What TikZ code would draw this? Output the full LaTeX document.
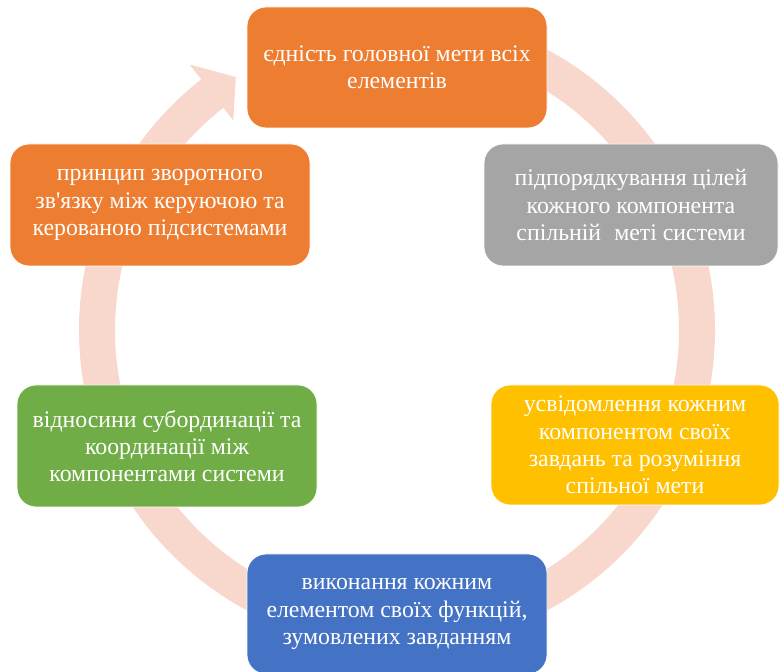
\documentclass[tikz,border=0pt]{standalone}
\usepackage{fontspec}
\setmainfont{Liberation Serif}
\definecolor{cOrange}{HTML}{ED7D31}
\definecolor{cGrey}{HTML}{A5A5A5}
\definecolor{cYellow}{HTML}{FFC000}
\definecolor{cBlue}{HTML}{4472C4}
\definecolor{cGreen}{HTML}{70AD47}
\definecolor{cBand}{HTML}{F8D7CC}
\begin{document}
\begin{tikzpicture}[x=1pt,y=1pt,
  box/.style={rounded corners=19pt, draw=white, line width=0.8pt, text=white,
    align=center, inner sep=0pt, font=\fontsize{23.8}{27.2}\selectfont},
]
\useasboundingbox (0,0) rectangle (780,672);
% circular arrow band
\begin{scope}[shift={(397,342)}]
\fill[cBand] (95:318) arc[start angle=95, end angle=-232, radius=318]
  -- (-232:337) -- (-237.5:300) -- (-232:266) -- (-232:282)
  arc[start angle=-232, end angle=95, radius=282] -- cycle;
\end{scope}
% boxes
\node[box, fill=cOrange, minimum width=300pt, minimum height=121pt] (n1) at (397,604.5)
  {єдність головної мети всіх\\елементів};
\node[box, fill=cGrey, minimum width=294pt, minimum height=122pt] (n2) at (631,467)
  {підпорядкування цілей\\кожного компонента\\спільній\hspace{0.3em} меті системи};
\node[box, fill=cYellow, minimum width=288pt, minimum height=120pt] (n3) at (635,227)
  {усвідомлення кожним\\компонентом своїх\\завдань та розуміння\\спільної мети};
\node[box, fill=cBlue, minimum width=300pt, minimum height=120pt] (n4) at (397,58)
  {виконання кожним\\елементом своїх функцій,\\зумовлених завданням};
\node[box, fill=cGreen, minimum width=300pt, minimum height=122pt] (n5) at (167,226)
  {відносини субординації та\\координації між\\компонентами системи};
\node[box, fill=cOrange, minimum width=300pt, minimum height=122pt] (n6) at (160,467)
  {принцип зворотного\\зв\textquotesingle язку між керуючою та\\керованою підсистемами};
\end{tikzpicture}
\end{document}
